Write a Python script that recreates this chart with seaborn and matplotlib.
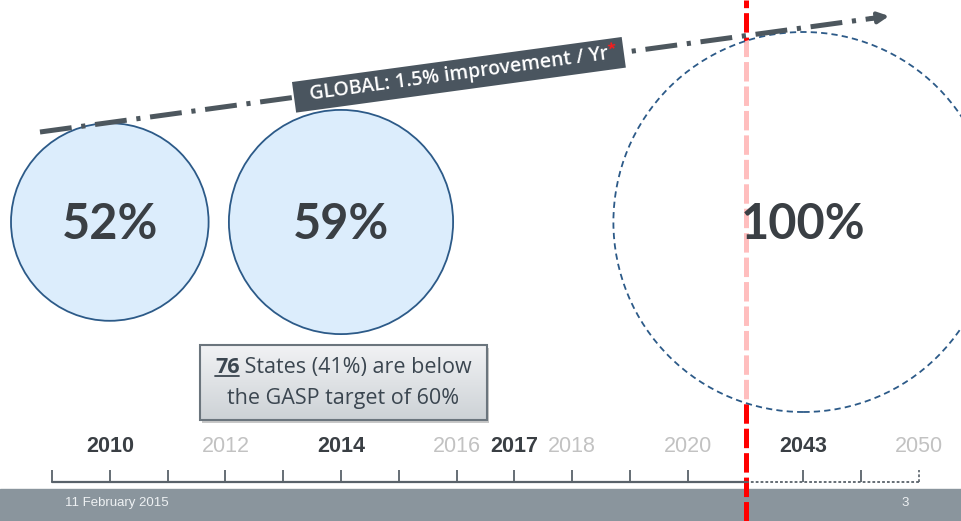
import numpy as np
import pandas as pd
import matplotlib.pyplot as plt
import matplotlib.patches as mpatches
import seaborn as sns

# timeline: one tick per slot, the axis jumps from 2020 to 2043 at the break
year_labels = ["2010", "2012", "2014", "2016", "2017", "2018", "2020", "2043", "2050"]
year_slots = [1, 3, 5, 7, 8, 9, 11, 13, 15]
key_years = ["2010", "2014", "2017", "2043"]
n_slots = 16
break_slot = 12

# circles (radius follows the value)
circle_years = ["2010", "2014", "2043"]
circle_values = [52, 59, 100]
circle_is_target = [False, False, True]

trend_label = "GLOBAL: 1.5% improvement / Yr"
note_number = "76"
note_line1 = " States (41%) are below"
note_line2 = "the GASP target of 60%"
footer_date = "11 February 2015"
footer_page = "3"

sns.set_theme(style="white")
plt.rcParams["lines.scale_dashes"] = False
plt.rcParams["font.family"] = ["Open Sans", "DejaVu Sans"]

PX = 57.8  # pixels per slot, same scale on y so circles stay round
W, H = 961, 521
x0 = -52 / PX
fig = plt.figure(figsize=(W / 100, H / 100), dpi=100)
ax = fig.add_axes([0, 0, 1, 1])
ax.set_xlim(x0, x0 + W / PX)
ax.set_ylim(-39 / PX, 482 / PX)
ax.axis("off")

slot_of = dict(zip(year_labels, year_slots))

# red break line
ax.axvline(break_slot, color="#ff0000", lw=3.6, linestyle=(0, (14, 3.6)), zorder=2)

# circles
cy = 260 / PX
for yr, v, target in zip(circle_years, circle_values, circle_is_target):
    r = v * 1.9 / PX
    cx = slot_of[yr]
    if target:
        c = mpatches.Circle((cx, cy), r, facecolor=(1, 1, 1, 0.75), edgecolor="#2c5a88",
                            lw=1.3, linestyle=(0, (4.5, 3)), zorder=3)
    else:
        c = mpatches.Circle((cx, cy), r, facecolor="#dcedfc", edgecolor="#2c5a88",
                            lw=1.3, zorder=3)
    ax.add_patch(c)
    ax.text(cx, cy - 0.05, f"{v}%", ha="center", va="center", fontsize=35,
            fontweight="bold", family=["Lato", "DejaVu Sans"], color="#3a3f44", zorder=5)

# trend arrow
tx = [-0.208, 14.24]
ty = [6.055, 8.028]
trend = pd.DataFrame({"x": tx, "y": ty})
sns.lineplot(data=trend, x="x", y="y", sort=False, color="#4d575e", lw=3.6,
             linestyle=(0, (23, 7, 3, 7)), ax=ax, zorder=6)
ax.annotate("", xy=(14.53, 8.068), xytext=(14.1, 8.009),
            arrowprops=dict(arrowstyle="-|>", color="#4d575e", lw=3, mutation_scale=16),
            zorder=6)
angle = np.degrees(np.arctan2(ty[1] - ty[0], tx[1] - tx[0]))
lx = 7.04
ly = ty[0] + (lx - tx[0]) * (ty[1] - ty[0]) / (tx[1] - tx[0])
lab_kw = dict(ha="center", va="center", color="white", fontsize=14, fontweight="semibold")
probe = ax.text(lx, ly, trend_label, **lab_kw)
fig.canvas.draw()
lw_px = probe.get_window_extent().width
probe.remove()
ax.text(lx, ly, "  " + trend_label + "  ", rotation=angle, rotation_mode="anchor", zorder=7,
        bbox=dict(boxstyle="square,pad=0.28", fc="#4a555f", ec="none"), **lab_kw)
a = np.radians(angle)
off = lw_px / 2 + 4
ax.annotate("*", xy=(lx, ly), xytext=((off * np.cos(a) - 5 * np.sin(a)) * 0.72,
                                      (off * np.sin(a) + 5 * np.cos(a)) * 0.72),
            textcoords="offset points", ha="center", va="center", color="#ff1a1a",
            fontsize=11, fontweight="bold", rotation=angle, zorder=8)

# note box
bx0, bx1 = 200 / PX + x0, 487 / PX + x0
by0, by1 = 62 / PX, 137 / PX
grad = np.linspace(1, 0, 64).reshape(-1, 1)
ax.imshow(grad, extent=(bx0, bx1, by0, by1), cmap=sns.blend_palette(["#cdd2d6", "#f1f2f4"], as_cmap=True),
          aspect="auto", zorder=4)
ax.add_patch(mpatches.Rectangle((bx0 + 0.04, by0 - 0.05), bx1 - bx0, by1 - by0, fc="#c8c8c8",
                                ec="none", zorder=3.9))
ax.add_patch(mpatches.Rectangle((bx0, by0), bx1 - bx0, by1 - by0, fc="none", ec="#6b757d",
                                lw=1.5, zorder=4.5))
ax.set_xlim(x0, x0 + W / PX)
ax.set_ylim(-39 / PX, 482 / PX)

bcx = (bx0 + bx1) / 2
note_kw = dict(fontsize=15.5, color="#3b4650", va="baseline", zorder=5)
t1 = ax.text(bcx, 0, note_number, fontweight="bold", ha="left", **note_kw)
t2 = ax.text(bcx, 0, note_line1, ha="left", **note_kw)
fig.canvas.draw()
w1 = t1.get_window_extent().width / PX
w2 = t2.get_window_extent().width / PX
base1 = 109 / PX
left = bcx - (w1 + w2) / 2
t1.set_position((left, base1))
t2.set_position((left + w1, base1))
ax.plot([left, left + w1], [base1 - 3 / PX, base1 - 3 / PX], color="#3b4650", lw=1.3, zorder=5)
ax.text(bcx, 78 / PX, note_line2, ha="center", **note_kw)

# timeline axis
base = pd.DataFrame({"x": [0, break_slot], "y": [0, 0]})
sns.lineplot(data=base, x="x", y="y", color="#59626a", lw=1.6, ax=ax, zorder=3)
ax.plot([break_slot, n_slots - 1], [0, 0], color="#59626a", lw=1.3, linestyle=(0, (2, 1.5)), zorder=3)
tick_h = 12 / PX
solid = [s for s in range(n_slots) if s != break_slot and s < n_slots - 1]
ax.vlines(solid, 0, tick_h, color="#59626a", lw=1.3, zorder=3)
ax.vlines([n_slots - 1], 0, tick_h, color="#59626a", lw=1.2, linestyle=(0, (2, 1.5)), zorder=3)
for lbl, s in zip(year_labels, year_slots):
    key = lbl in key_years
    ax.text(s, 35 / PX, lbl, ha="center", va="center", fontsize=15.5,
            family=["Liberation Sans Narrow", "Liberation Sans"],
            fontweight="bold" if key else "normal",
            color="#3a3f44" if key else "#c2c2c2", zorder=3)

# footer
ax.axhspan(-39 / PX, -7 / PX, color="#8a959d", zorder=1)
ax.text(65 / PX + x0, -21 / PX, footer_date, ha="left", va="center", fontsize=9.5,
        family=["Liberation Sans Narrow", "Liberation Sans"], color="#eef1f3", zorder=1.5)
ax.text(905 / PX + x0, -21 / PX, footer_page, ha="center", va="center", fontsize=9.5,
        family=["Liberation Sans Narrow", "Liberation Sans"], color="#eef1f3", zorder=1.5)

ax.get_legend() and ax.get_legend().remove()
fig.savefig("out.png", dpi=100)
